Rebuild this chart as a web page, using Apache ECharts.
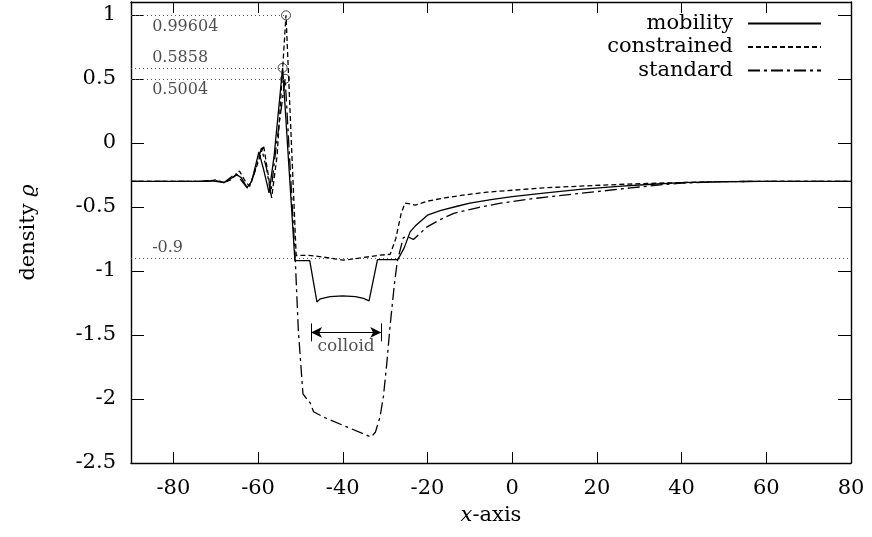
<!DOCTYPE html>
<html><head><meta charset="utf-8">
<script src="https://cdn.jsdelivr.net/npm/echarts@6/dist/echarts.min.js"></script>
<style>html,body{margin:0;padding:0;background:#fff}#c{width:872px;height:537px}</style>
</head><body><div id="c"></div>
<script>
// ---- data ----
const xTicks = [-80, -60, -40, -20, 0, 20, 40, 60, 80];
const yTicks = [-2.5, -2, -1.5, -1, -0.5, 0, 0.5, 1];

const mobility = [
  [-90,-0.3],[-80,-0.3],[-74,-0.3],[-72,-0.295],[-70,-0.3],[-68,-0.31],[-66.5,-0.28],[-65,-0.25],
  [-64,-0.27],[-62.6,-0.35],[-61.5,-0.3],[-59.8,-0.07],[-58.6,-0.22],[-57.4,-0.39],[-56.2,-0.1],
  [-54.2,0.5858],[-51.3,-0.92],[-47.8,-0.92],[-46.1,-1.242],[-45.3,-1.218],[-43,-1.2],[-40,-1.195],
  [-37,-1.2],[-35.1,-1.214],[-33.8,-1.234],[-33.5,-1.24],[-31.8,-0.912],[-27,-0.912],[-25.5,-0.82],
  [-24.1,-0.695],[-22.9,-0.65],[-20,-0.565],[-17,-0.53],[-13,-0.495],[-10,-0.47],[-5,-0.443],
  [0,-0.42],[8,-0.39],[16,-0.364],[25,-0.34],[32,-0.325],[40,-0.31],[50,-0.302],[60,-0.3],[70,-0.3],[80,-0.3]
];
const constrained = [
  [-90,-0.3],[-80,-0.3],[-72,-0.3],[-70,-0.29],[-68,-0.31],[-66.5,-0.29],[-64.4,-0.22],[-63,-0.3],
  [-62,-0.34],[-60.5,-0.2],[-58.7,-0.02],[-57.6,-0.25],[-56.8,-0.43],[-55.5,-0.1],[-53.4,0.99604],
  [-51,-0.88],[-48,-0.878],[-45,-0.89],[-42,-0.905],[-40,-0.915],[-38.3,-0.91],[-35,-0.895],
  [-31.2,-0.877],[-28.8,-0.87],[-27.5,-0.75],[-26.2,-0.55],[-25.3,-0.47],[-24,-0.478],[-22.9,-0.487],
  [-20,-0.455],[-16,-0.43],[-12,-0.41],[-6,-0.385],[0,-0.37],[8,-0.35],[16,-0.338],[25,-0.325],
  [32,-0.317],[40,-0.31],[50,-0.303],[60,-0.3],[80,-0.3]
];
const standard = [
  [-90,-0.3],[-80,-0.3],[-72,-0.3],[-70,-0.295],[-68,-0.31],[-66.5,-0.27],[-65.2,-0.24],[-63.8,-0.3],
  [-62.3,-0.36],[-61,-0.25],[-59.2,-0.04],[-58,-0.2],[-57,-0.4],[-55.8,-0.05],[-53.6,0.5004],
  [-51.2,-0.92],[-50.5,-1.46],[-49.4,-1.96],[-48.5,-2.0],[-47.7,-2.03],[-46.9,-2.1],[-44.6,-2.14],
  [-40,-2.205],[-33.3,-2.297],[-32.3,-2.26],[-31.2,-2.14],[-30.4,-1.98],[-29.6,-1.72],[-28.8,-1.42],
  [-27.8,-1.1],[-27.1,-0.92],[-25.7,-0.74],[-24.8,-0.73],[-23.3,-0.755],[-20.1,-0.656],[-17,-0.6],
  [-13.8,-0.55],[-8,-0.505],[-3,-0.473],[5,-0.435],[16,-0.395],[28,-0.352],[35,-0.328],[40,-0.315],
  [50,-0.303],[60,-0.3],[80,-0.3]
];
const seriesNames = ['mobility', 'constrained', 'standard'];
const refLevel = -0.9;
const colloidRange = [-47.5, -30.9];
const colloidY = -1.48;
const colloidText = 'colloid';

// ---- helpers ----
const FONT = 'DejaVu Serif';
function peak(arr) { let b = arr[0]; for (const p of arr) if (p[1] > b[1]) b = p; return b; }
const pM = peak(mobility), pC = peak(constrained), pS = peak(standard);

const dotted = { type: [1, 3], color: '#555', width: 1 };
const labelX = -85;

function annot(x, y, text, dy, size) {
  return { value: [x, y], label: { show: true, formatter: text, offset: [0, dy], fontSize: size || 16 } };
}

const chart = echarts.init(document.getElementById('c'), null, { renderer: 'canvas' });
const axisCommon = {
  type: 'value',
  axisLine: { show: true, onZero: false, lineStyle: { color: '#000', width: 1.4 } },
  splitLine: { show: false },
  axisTick: { show: true, inside: true, lineStyle: { color: '#000', width: 1 } },
};
chart.setOption({
  animation: false,
  backgroundColor: '#fff',
  textStyle: { fontFamily: FONT, color: '#000' },
  grid: { left: 131, right: 21, top: 2, bottom: 74 },
  xAxis: [
    Object.assign({}, axisCommon, {
      min: -90, max: 80, position: 'bottom',
      axisTick: { show: true, inside: true, length: 11, customValues: xTicks, lineStyle: { color: '#000', width: 1 } },
      axisLabel: { show: true, customValues: xTicks, margin: 15, fontSize: 21, fontFamily: FONT, color: '#000' },
      name: '{i|x}-axis', nameLocation: 'middle', nameGap: 42,
      nameTextStyle: { fontSize: 21, fontFamily: FONT, color: '#000', rich: { i: { fontStyle: 'italic', fontSize: 21, fontFamily: FONT } } }
    }),
    Object.assign({}, axisCommon, {
      min: -90, max: 80, position: 'top',
      axisTick: { show: true, inside: true, length: 11, customValues: xTicks, lineStyle: { color: '#000', width: 1 } },
      axisLabel: { show: false }
    })
  ],
  yAxis: [
    Object.assign({}, axisCommon, {
      min: -2.5, max: 1.1, position: 'left',
      axisTick: { show: true, inside: true, length: 13, customValues: yTicks, lineStyle: { color: '#000', width: 1 } },
      axisLabel: { show: true, customValues: yTicks, margin: 15, fontSize: 21, fontFamily: FONT, color: '#000' },
      name: '{n|density }{i|ϱ}', nameLocation: 'middle', nameGap: 92, nameRotate: 90,
      nameTextStyle: { fontSize: 21, fontFamily: FONT, color: '#000',
        rich: { n: { fontSize: 21, fontFamily: FONT }, i: { fontStyle: 'italic', fontSize: 21, fontFamily: FONT } } }
    }),
    Object.assign({}, axisCommon, {
      min: -2.5, max: 1.1, position: 'right',
      axisTick: { show: true, inside: true, length: 13, customValues: yTicks, lineStyle: { color: '#000', width: 1 } },
      axisLabel: { show: false }
    })
  ],
  legend: {
    data: seriesNames,
    orient: 'vertical', align: 'right',
    right: 50, top: 13, padding: 0,
    itemWidth: 73, itemHeight: 14, itemGap: 2.5,
    itemStyle: { opacity: 0 },
    textStyle: { fontSize: 21, fontFamily: FONT, color: '#000', lineHeight: 21, padding: [0, 10, 0, 0] },
    selectedMode: false
  },
  series: [
    { name: 'mobility', type: 'line', data: mobility, showSymbol: false, symbol: 'none',
      lineStyle: { color: '#000', width: 1.3, type: 'solid' }, itemStyle: { color: '#000' }, z: 3 },
    { name: 'constrained', type: 'line', data: constrained, showSymbol: false, symbol: 'none',
      lineStyle: { color: '#000', width: 1.3, type: [5, 3] }, itemStyle: { color: '#000' }, z: 3 },
    { name: 'standard', type: 'line', data: standard, showSymbol: false, symbol: 'none',
      lineStyle: { color: '#000', width: 1.3, type: [12, 4, 3, 4] }, itemStyle: { color: '#000' }, z: 3 },
    { name: 'peaks', type: 'scatter', data: [pC, pM, pS], symbol: 'circle', symbolSize: 9,
      itemStyle: { color: 'rgba(0,0,0,0)', borderColor: '#000', borderWidth: 0.9 }, z: 4, silent: true },
    { name: 'annotations', type: 'scatter', symbolSize: 0, silent: true, z: 2,
      label: { show: true, position: 'right', distance: 0, fontFamily: FONT, color: '#222', fontSize: 16 },
      data: [
        annot(labelX, pC[1], String(pC[1]), 11.5),
        annot(labelX, pM[1], String(pM[1]), -10),
        annot(labelX, pS[1], String(pS[1]), 11.5),
        annot(labelX, refLevel, String(refLevel), -10)
      ],
      markLine: { silent: true, symbol: 'none', label: { show: false }, lineStyle: dotted,
        data: [
          [{ coord: [-90, pC[1]] }, { coord: [pC[0], pC[1]] }],
          [{ coord: [-90, pM[1]] }, { coord: [pM[0], pM[1]] }],
          [{ coord: [-90, pS[1]] }, { coord: [pS[0], pS[1]] }],
          [{ coord: [-90, refLevel] }, { coord: [80, refLevel] }]
        ] } },
    { name: 'colloid', type: 'scatter', symbolSize: 0, silent: true, z: 5,
      data: [{ value: [(colloidRange[0] + colloidRange[1]) / 2, colloidY],
        label: { show: true, position: 'inside', formatter: colloidText, offset: [0, 14], fontSize: 17, fontFamily: FONT, color: '#222' } }],
      markLine: { silent: true, label: { show: false }, lineStyle: { color: '#000', width: 1, type: 'solid' },
        data: [
          [{ coord: [colloidRange[0], colloidY], symbol: 'arrow', symbolSize: [8, 11] },
           { coord: [colloidRange[1], colloidY], symbol: 'arrow', symbolSize: [8, 11] }],
          [{ coord: [colloidRange[0], colloidY + 0.07], symbol: 'none' }, { coord: [colloidRange[0], colloidY - 0.07], symbol: 'none' }],
          [{ coord: [colloidRange[1], colloidY + 0.07], symbol: 'none' }, { coord: [colloidRange[1], colloidY - 0.07], symbol: 'none' }]
        ] } }
  ]
});
</script>
</body></html>
